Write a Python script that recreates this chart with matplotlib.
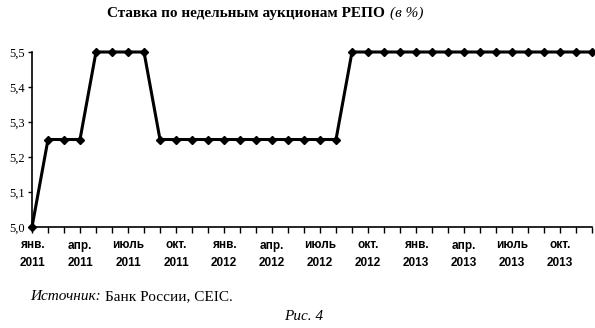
import matplotlib
matplotlib.use("Agg")
import matplotlib.pyplot as plt
from matplotlib.ticker import FixedLocator

# Monthly data Jan 2011 .. Dec 2013
rates = [5.0, 5.25, 5.25, 5.25, 5.5, 5.5, 5.5, 5.5,
         5.25, 5.25, 5.25, 5.25, 5.25, 5.25, 5.25, 5.25, 5.25, 5.25, 5.25, 5.25,
         5.5, 5.5, 5.5, 5.5, 5.5, 5.5, 5.5, 5.5, 5.5, 5.5, 5.5, 5.5, 5.5, 5.5, 5.5, 5.5]
tick_labels = ["янв.\n2011", "апр.\n2011", "июль\n2011", "окт.\n2011",
               "янв.\n2012", "апр.\n2012", "июль\n2012", "окт.\n2012",
               "янв.\n2013", "апр.\n2013", "июль\n2013", "окт.\n2013"]
y_ticks = [5.0, 5.1, 5.2, 5.3, 5.4, 5.5]

x = list(range(len(rates)))

W, H = 595, 328
fig = plt.figure(figsize=(W/100, H/100), dpi=100)
ax = fig.add_axes([32/W, 1-227/H, (592-32)/W, (227-52)/H])

ax.plot(x, rates, color="black", lw=2.2, marker="D", ms=4, clip_on=False, zorder=3)

ax.set_xlim(0, 35)
ax.set_ylim(5.0, 5.5)
ax.xaxis.set_major_locator(FixedLocator(list(range(0, 36, 3))))
ax.xaxis.set_minor_locator(FixedLocator(list(range(0, 37))))
ax.set_xticklabels(tick_labels)
ax.set_yticks(y_ticks)
ax.set_yticklabels([f"{v:.1f}".replace(".", ",") for v in y_ticks])

for side in ["top", "right"]:
    ax.spines[side].set_visible(False)
ax.spines["left"].set_linewidth(1.2)
ax.spines["bottom"].set_linewidth(1.2)

ax.tick_params(axis="x", which="both", direction="out", length=4, width=1, pad=5,
               labelsize=8.5)
ax.tick_params(axis="y", direction="out", length=3, width=1, pad=2, labelsize=9)
for lab in ax.get_xticklabels():
    lab.set_fontfamily("Liberation Sans")
    lab.set_fontweight("bold")
    lab.set_linespacing(1.65)
for lab in ax.get_yticklabels():
    lab.set_fontfamily("Liberation Serif")

# Title: bold part + italic part
t1 = fig.text(107/W, 1-13/H, "Ставка по недельным аукционам РЕПО", ha="left", va="center",
              fontsize=11, fontweight="bold", family="Liberation Serif")
fig.canvas.draw()
r = fig.canvas.get_renderer()
bb = t1.get_window_extent(r)
fig.text((bb.x1 + 5)/W, 1-13/H, "(в %)", ha="left", va="center",
         fontsize=11, fontstyle="italic", family="Liberation Serif")

s1 = fig.text(30/W, 1-297/H, "Источник:", ha="left", va="center",
              fontsize=11, fontstyle="italic", family="Liberation Serif")
fig.canvas.draw()
bb2 = s1.get_window_extent(r)
fig.text((bb2.x1 + 4)/W, 1-297/H, "Банк России, CEIC.", ha="left", va="center",
         fontsize=11, family="Liberation Serif")
fig.text(304/W, 1-316/H, "Рис. 4", ha="center", va="center",
         fontsize=11, fontstyle="italic", family="Liberation Serif")

fig.savefig("out.png", dpi=100)
